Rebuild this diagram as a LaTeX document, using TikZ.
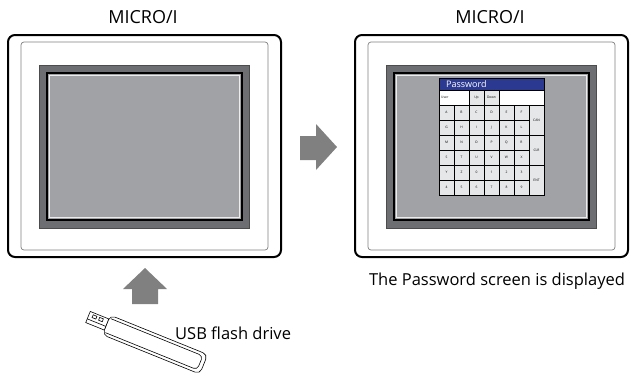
\documentclass[tikz,border=0pt]{standalone}
\usepackage{fontspec}
\setmainfont{Open Sans}
\usetikzlibrary{positioning}

\definecolor{bezelgray}{HTML}{6D6E71}
\definecolor{screengray}{HTML}{A1A2A5}
\definecolor{arrowgray}{HTML}{808080}
\definecolor{keygray}{HTML}{E6E7E8}
\definecolor{titleblue}{HTML}{2B3990}

\begin{document}
\begin{tikzpicture}[x=1pt,y=-1pt,
    caption/.style={font=\fontsize{16.5}{19}\selectfont,inner sep=0pt},
    frame/.style={draw=black,line width=2pt,rounded corners=7pt,fill=white},
    rim/.style={draw=gray,line width=0.7pt,rounded corners=3pt},
    bezel/.style={draw=black!70,line width=0.6pt,fill=bezelgray},
    screen/.style={draw=black,line width=1.3pt,fill=screengray},
    key/.style={draw=black,line width=0.8pt,fill=keygray,minimum width=15pt,
        minimum height=15pt,inner sep=0pt,font=\fontsize{3.3}{4}\selectfont},
    bigarrow/.style={fill=arrowgray}
]
\useasboundingbox (0,0) rectangle (639,376);

% the two panels, before and after
\foreach \dx/\name in {0/before,347/after}{
  \begin{scope}[xshift=\dx]
    \draw[frame] (8,35) rectangle (281,257);
    \draw[rim] (21,42) rectangle (268,250);
    \draw[bezel] (39,65) rectangle (249,228);
    \draw[screen] (47,73) rectangle (242,220);
    \draw[white!85!gray,line width=0.8pt] (49.5,75.5) rectangle (239.5,217.5);
    \node[caption,font=\fontsize{18}{20}\selectfont] (title-\name) at (143,17) {MICRO/I};
  \end{scope}
}

% password keypad
\fill[titleblue] (439,78) rectangle (544,90);
\node[anchor=west,text=white,font=\fontsize{9}{10}\selectfont,inner sep=0pt] (pw-title) at (446,84.5) {Password};
\draw[fill=white,line width=0.8pt] (439,90) rectangle (469,105);
\node[anchor=west,inner sep=0pt,font=\fontsize{3.3}{4}\selectfont] (user) at (441,97.5) {User};
\node[key] (up) at (476.5,97.5) {Up};
\node[key] (down) at (491.5,97.5) {Down};
\draw[fill=white,line width=0.8pt] (499,90) rectangle (544,105);
\foreach \keys [count=\r from 0] in {{A,B,C,D,E,F},{G,H,I,J,K,L},{M,N,O,P,Q,R},
                                     {S,T,U,V,W,X},{Y,Z,0,1,2,3},{4,5,6,7,8,9}}
  \foreach \k [count=\c from 0] in \keys
    \node[key] (key-\k) at (446.5+15*\c,112.5+15*\r) {\k};
\foreach \k [count=\r from 0] in {CAN,CLR,ENT}
  \node[key,minimum height=30pt] (key-\k) at (536.5,120+30*\r) {\k};
\draw[line width=1pt] (439,78) rectangle (544,195);

% block arrows
\fill[bigarrow] (300,136) -- (316,136) -- (316,124) -- (337,147) -- (316,170)
    -- (316,160) -- (300,160) -- cycle;
\fill[bigarrow] (132,304) -- (132,289) -- (123,289) -- (145,268) -- (167,289)
    -- (158,289) -- (158,304) -- cycle;

% usb stick, drawn along its own axis
\begin{scope}[shift={(88,317)},rotate=-22,line width=0.6pt]
  \draw[fill=white,rounded corners=5pt] (20,-10) rectangle (125,11);
  \draw[rounded corners=4pt] (22,-7) -- (121,-7) -- (121,8) -- (22,8);
  \draw[fill=white] (0,-6) rectangle (20,6);
  \draw (0,2) -- (20,2);
  \draw (4,-4) rectangle (8,-1);
  \draw (11,-4) rectangle (15,-1);
\end{scope}

\node[caption,anchor=west] (usb) at (175,333) {USB flash drive};
\node[caption] (msg) at (497,281) {The Password screen is displayed};
\end{tikzpicture}
\end{document}
